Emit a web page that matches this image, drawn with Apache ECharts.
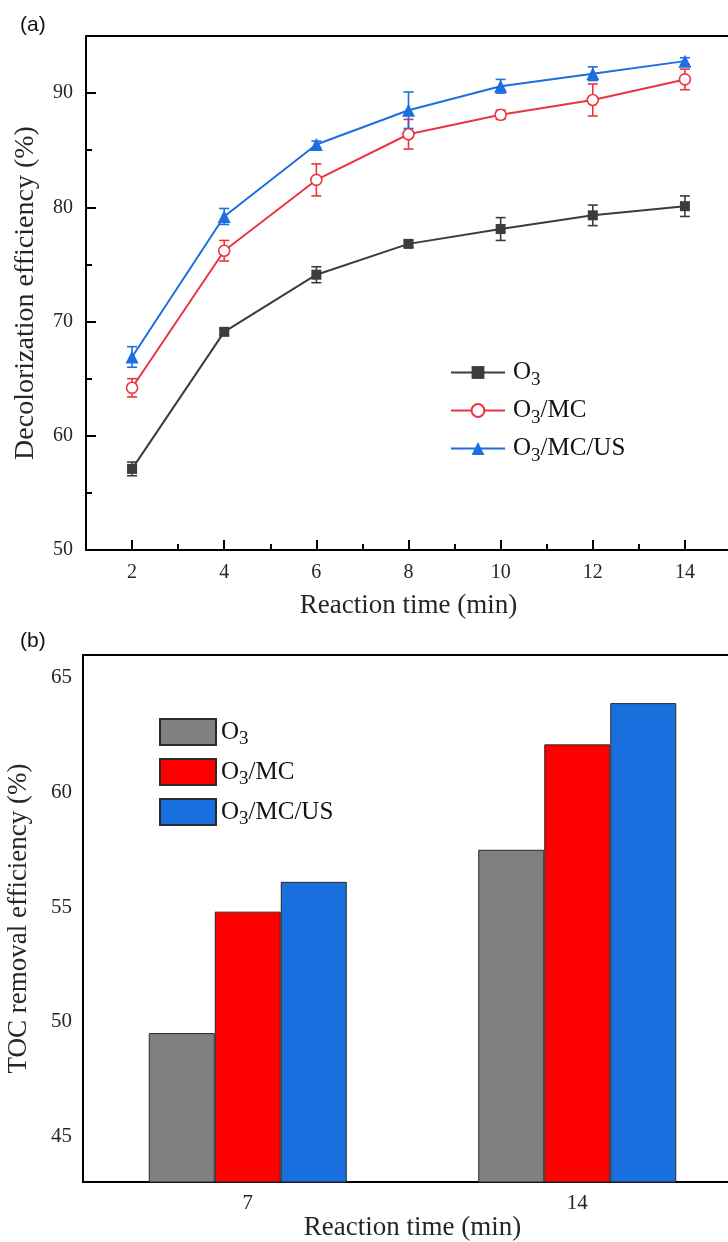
<!DOCTYPE html>
<html>
<head>
<meta charset="utf-8">
<script src="https://cdn.jsdelivr.net/npm/echarts@6/dist/echarts.min.js"></script>
<style>
  html, body { margin: 0; padding: 0; background: #ffffff; width: 728px; overflow: hidden; }
  /* the plot frames run a little past the right edge of the page */
  #chart { width: 745px; height: 1242px; }
</style>
</head>
<body>
<div id="chart"></div>
<script>
// (a) decolorization efficiency vs. reaction time
const times = [2, 4, 6, 8, 10, 12, 14];
const o3 = [57.1, 69.1, 74.1, 76.8, 78.1, 79.3, 80.1];
const o3Err = [0.6, 0.3, 0.7, 0.3, 1.0, 0.9, 0.9];
const o3mc = [64.2, 76.2, 82.4, 86.4, 88.1, 89.4, 91.2];
const o3mcErr = [0.8, 0.9, 1.4, 1.3, 0.4, 1.4, 0.9];
const o3mcus = [66.9, 79.2, 85.5, 88.5, 90.6, 91.7, 92.8];
const o3mcusErr = [0.9, 0.7, 0.3, 1.6, 0.6, 0.6, 0.3];
const timeTicks = [2, 4, 6, 8, 10, 12, 14];
const timeMinorTicks = [3, 5, 7, 9, 11, 13];
const decolTicks = [50, 60, 70, 80, 90];
const decolMinorTicks = [55, 65, 75, 85];

// (b) TOC removal efficiency
const tocTimes = ['7', '14'];
const tocO3 = [49.5, 57.5];
const tocO3mc = [54.8, 62.1];
const tocO3mcus = [56.1, 63.9];
const tocTicks = [45, 50, 55, 60, 65];
const tocMinorTicks = [47.5, 52.5, 57.5, 62.5];

const SERIF = '"Liberation Serif", "Times New Roman", serif';
const SANS = '"Liberation Sans", Arial, sans-serif';
const INK = '#262626';
const C_BLACK = '#3c3c3c', C_RED = '#ea3540', C_BLUE = '#1d6ee0';
const BAR_GREY = '#808080', BAR_RED = '#ff0000', BAR_BLUE = '#1a6fdf';

// legend labels with subscript digits (the subscript is pushed down by top padding)
function legendRich(gap) {
  return {
    f: { fontFamily: SERIF, fontSize: 25, color: '#111', padding: [0, 0, 0, gap] },
    m: { fontFamily: SERIF, fontSize: 25, color: '#111' },
    s: { fontFamily: SERIF, fontSize: 19, color: '#111', padding: [15, 0, 0, 0] }
  };
}
const labelMap = {
  'O3': '{f|O}{s|3}',
  'O3/MC': '{f|O}{s|3}{m|/MC}',
  'O3/MC/US': '{f|O}{s|3}{m|/MC/US}',
  'TOC O3': '{f|O}{s|3}',
  'TOC O3/MC': '{f|O}{s|3}{m|/MC}',
  'TOC O3/MC/US': '{f|O}{s|3}{m|/MC/US}'
};

const pairs = (ys) => times.map((t, i) => [t, ys[i]]);
const errData = (ys, es) => times.map((t, i) => [t, ys[i] - es[i], ys[i] + es[i]]);

function errorBarSeries(ys, es, color) {
  return {
    type: 'custom',
    xAxisIndex: 0, yAxisIndex: 0,
    z: 1,
    silent: true,
    data: errData(ys, es),
    renderItem: function (params, api) {
      const x = api.value(0);
      const lo = api.coord([x, api.value(1)]);
      const hi = api.coord([x, api.value(2)]);
      const w = 5;
      const st = { stroke: color, lineWidth: 1.6 };
      return {
        type: 'group',
        children: [
          { type: 'line', shape: { x1: lo[0], y1: lo[1], x2: hi[0], y2: hi[1] }, style: st },
          { type: 'line', shape: { x1: lo[0] - w, y1: lo[1], x2: lo[0] + w, y2: lo[1] }, style: st },
          { type: 'line', shape: { x1: hi[0] - w, y1: hi[1], x2: hi[0] + w, y2: hi[1] }, style: st }
        ]
      };
    }
  };
}

const frameLine = { show: true, lineStyle: { color: '#000', width: 2 } };
const noLabel = { show: false };
const noTick = { show: false };
const noLine = { show: false };
const tickStyle = { color: '#000', width: 2 };
const tickLabel = (vals, margin, size) => ({
  customValues: vals, margin: margin, fontFamily: SERIF, fontSize: size, color: INK
});

const chart = echarts.init(document.getElementById('chart'), null, { renderer: 'canvas' });

chart.setOption({
  backgroundColor: '#ffffff',
  animation: false,
  title: [
    { text: '(a)', left: 15, top: 10, textStyle: { fontFamily: SANS, fontSize: 21, fontWeight: 'normal', color: '#111' } },
    { text: '(b)', left: 15, top: 626, textStyle: { fontFamily: SANS, fontSize: 21, fontWeight: 'normal', color: '#111' } }
  ],
  grid: [
    { left: 86, top: 36, right: 14, bottom: 692, outerBoundsMode: 'none', containLabel: false },
    { left: 83, top: 655, right: 3, bottom: 60, outerBoundsMode: 'none', containLabel: false }
  ],
  legend: [
    {
      data: ['O3', 'O3/MC', 'O3/MC/US'],
      orient: 'vertical', left: 445, top: 355,
      itemWidth: 54, itemHeight: 16, itemGap: 8.5,
      selectedMode: false,
      formatter: (n) => labelMap[n],
      textStyle: { rich: legendRich(3) }
    },
    {
      data: ['TOC O3', 'TOC O3/MC', 'TOC O3/MC/US'],
      orient: 'vertical', left: 154, top: 713,
      itemWidth: 56, itemHeight: 26, itemGap: 9,
      icon: 'rect',
      selectedMode: false,
      formatter: (n) => labelMap[n],
      textStyle: { rich: legendRich(0) }
    }
  ],
  xAxis: [
    // (a) bottom axis with labels and major ticks
    {
      type: 'value', gridIndex: 0, min: 1, max: 15, position: 'bottom',
      axisLine: frameLine,
      axisTick: { inside: true, length: 10, customValues: timeTicks, lineStyle: tickStyle },
      axisLabel: tickLabel(timeTicks, 13, 20),
      splitLine: { show: false },
      name: 'Reaction time (min)', nameLocation: 'middle', nameGap: 42,
      nameTextStyle: { fontFamily: SERIF, fontSize: 27, color: INK }
    },
    // (a) minor ticks
    {
      type: 'value', gridIndex: 0, min: 1, max: 15, position: 'bottom',
      axisLine: noLine, axisLabel: noLabel, splitLine: { show: false },
      axisTick: { inside: true, length: 6, customValues: timeMinorTicks, lineStyle: tickStyle }
    },
    // (a) top frame
    {
      type: 'value', gridIndex: 0, min: 1, max: 15, position: 'top',
      axisLine: frameLine, axisTick: noTick, axisLabel: noLabel, splitLine: { show: false }
    },
    // (b) category axis
    {
      type: 'category', gridIndex: 1, data: tocTimes, position: 'bottom',
      axisLine: frameLine,
      axisTick: { inside: true, length: 9, alignWithLabel: true, lineStyle: tickStyle },
      axisLabel: { margin: 11, fontFamily: SERIF, fontSize: 21, color: INK },
      name: 'Reaction time (min)', nameLocation: 'middle', nameGap: 30,
      nameTextStyle: { fontFamily: SERIF, fontSize: 27, color: INK }
    },
    // (b) boundary ticks between groups
    {
      type: 'category', gridIndex: 1, data: tocTimes, position: 'bottom',
      axisLine: noLine, axisLabel: noLabel,
      axisTick: { inside: true, length: 6, lineStyle: tickStyle }
    },
    // (b) top frame
    {
      type: 'category', gridIndex: 1, data: tocTimes, position: 'top',
      axisLine: frameLine, axisTick: noTick, axisLabel: noLabel
    }
  ],
  yAxis: [
    // (a) left axis
    {
      type: 'value', gridIndex: 0, min: 50, max: 95, position: 'left',
      axisLine: frameLine,
      axisTick: { inside: true, length: 10, customValues: decolTicks, lineStyle: tickStyle },
      axisLabel: tickLabel(decolTicks, 13, 20),
      splitLine: { show: false },
      name: 'Decolorization efficiency (%)', nameLocation: 'middle', nameGap: 46,
      nameTextStyle: { fontFamily: SERIF, fontSize: 28, color: INK }
    },
    // (a) minor ticks
    {
      type: 'value', gridIndex: 0, min: 50, max: 95, position: 'left',
      axisLine: noLine, axisLabel: noLabel, splitLine: { show: false },
      axisTick: { inside: true, length: 6, customValues: decolMinorTicks, lineStyle: tickStyle }
    },
    // (a) right frame
    {
      type: 'value', gridIndex: 0, min: 50, max: 95, position: 'right',
      axisLine: frameLine, axisTick: noTick, axisLabel: noLabel, splitLine: { show: false }
    },
    // (b) left axis
    {
      type: 'value', gridIndex: 1, min: 43, max: 66, position: 'left',
      axisLine: frameLine,
      axisTick: { inside: true, length: 10, customValues: tocTicks, lineStyle: tickStyle },
      axisLabel: tickLabel(tocTicks, 11, 21),
      splitLine: { show: false },
      name: 'TOC removal efficiency (%)', nameLocation: 'middle', nameGap: 51,
      nameTextStyle: { fontFamily: SERIF, fontSize: 27, color: INK }
    },
    // (b) minor ticks
    {
      type: 'value', gridIndex: 1, min: 43, max: 66, position: 'left',
      axisLine: noLine, axisLabel: noLabel, splitLine: { show: false },
      axisTick: { inside: true, length: 6, customValues: tocMinorTicks, lineStyle: tickStyle }
    },
    // (b) right frame
    {
      type: 'value', gridIndex: 1, min: 43, max: 66, position: 'right',
      axisLine: frameLine, axisTick: noTick, axisLabel: noLabel, splitLine: { show: false }
    }
  ],
  series: [
    errorBarSeries(o3, o3Err, C_BLACK),
    errorBarSeries(o3mc, o3mcErr, C_RED),
    errorBarSeries(o3mcus, o3mcusErr, C_BLUE),
    {
      name: 'O3', type: 'line', xAxisIndex: 0, yAxisIndex: 0, z: 3,
      data: pairs(o3), symbol: 'rect', symbolSize: 10,
      lineStyle: { color: C_BLACK, width: 2 }, itemStyle: { color: C_BLACK }
    },
    {
      name: 'O3/MC', type: 'line', xAxisIndex: 0, yAxisIndex: 0, z: 3,
      data: pairs(o3mc), symbol: 'circle', symbolSize: 11,
      lineStyle: { color: C_RED, width: 2 },
      itemStyle: { color: '#ffffff', borderColor: C_RED, borderWidth: 1.6 }
    },
    {
      name: 'O3/MC/US', type: 'line', xAxisIndex: 0, yAxisIndex: 0, z: 3,
      data: pairs(o3mcus), symbol: 'triangle', symbolSize: 13,
      lineStyle: { color: C_BLUE, width: 2 }, itemStyle: { color: C_BLUE }
    },
    {
      name: 'TOC O3', type: 'bar', xAxisIndex: 3, yAxisIndex: 3,
      data: tocO3, barWidth: 66, barGap: '0%',
      itemStyle: { color: BAR_GREY, borderColor: '#2a2a2a', borderWidth: 1 }
    },
    {
      name: 'TOC O3/MC', type: 'bar', xAxisIndex: 3, yAxisIndex: 3,
      data: tocO3mc, barWidth: 66, barGap: '0%',
      itemStyle: { color: BAR_RED, borderColor: '#2a2a2a', borderWidth: 1 }
    },
    {
      name: 'TOC O3/MC/US', type: 'bar', xAxisIndex: 3, yAxisIndex: 3,
      data: tocO3mcus, barWidth: 66, barGap: '0%',
      itemStyle: { color: BAR_BLUE, borderColor: '#2a2a2a', borderWidth: 1 }
    }
  ]
});
</script>
</body>
</html>
